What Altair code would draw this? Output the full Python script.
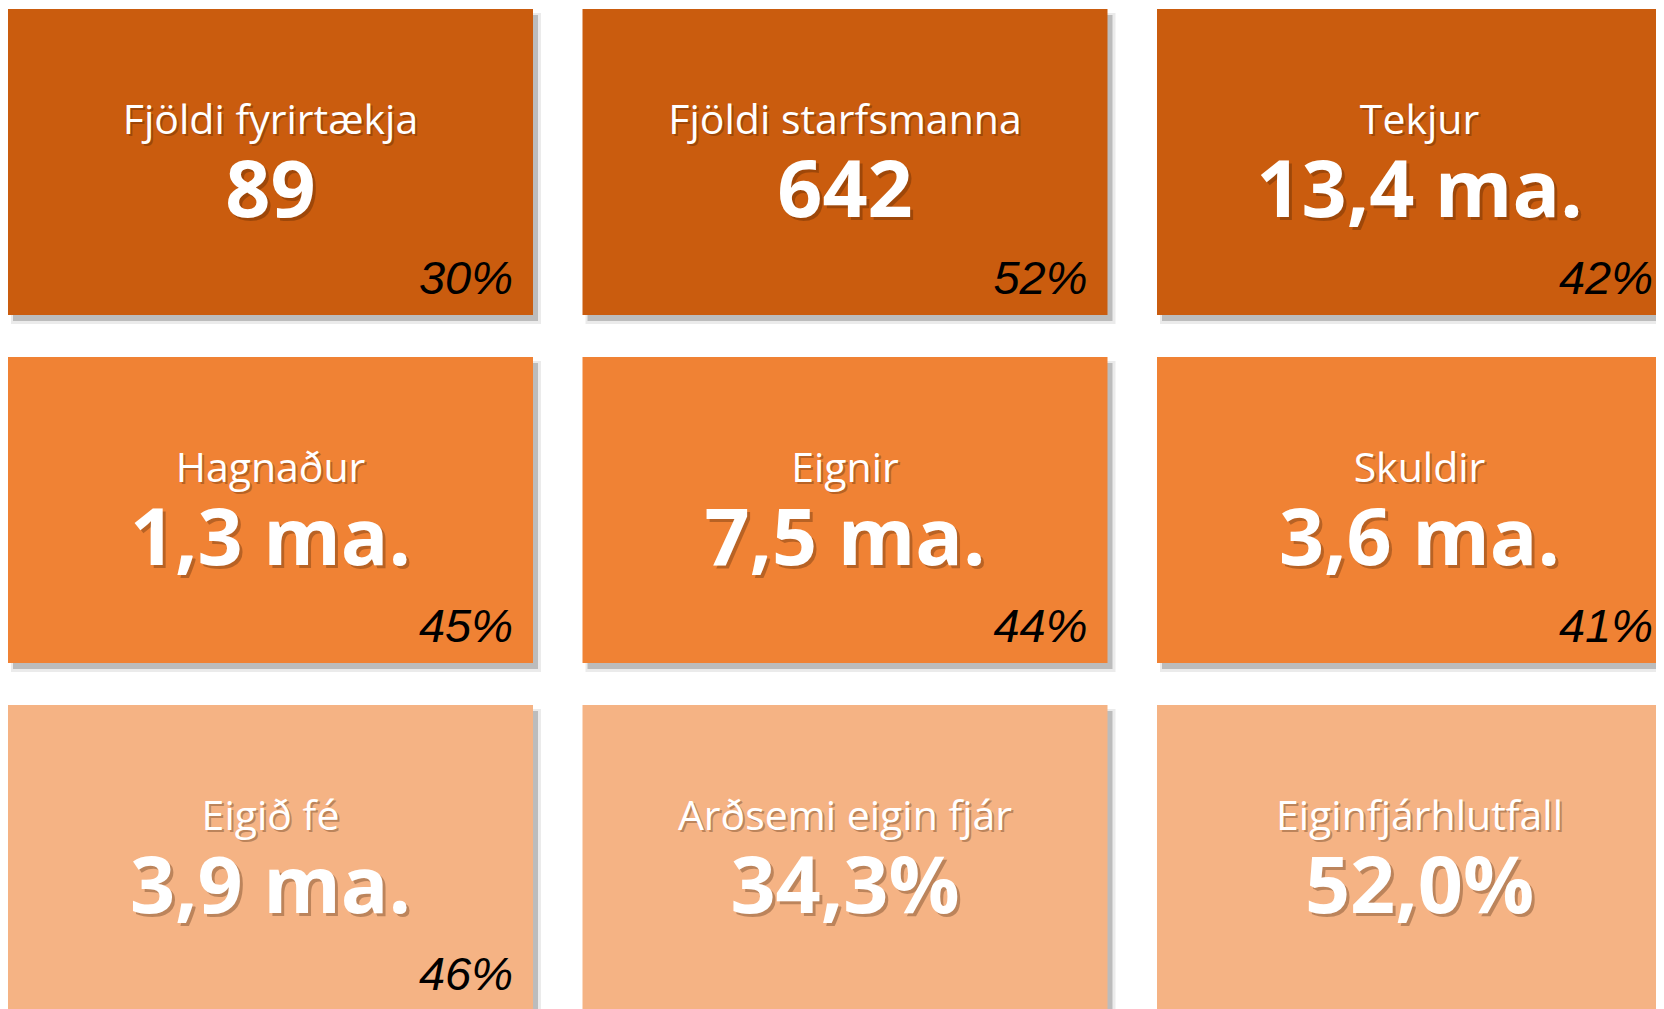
import altair as alt
import pandas as pd

titles = ["Fjöldi fyrirtækja", "Fjöldi starfsmanna", "Tekjur",
          "Hagnaður", "Eignir", "Skuldir",
          "Eigið fé", "Arðsemi eigin fjár", "Eiginfjárhlutfall"]
values = ["89", "642", "13,4 ma.",
          "1,3 ma.", "7,5 ma.", "3,6 ma.",
          "3,9 ma.", "34,3%", "52,0%"]
shares = ["30%", "52%", "42%",
          "45%", "44%", "41%",
          "46%", "", ""]
row_colors = ["#CA5C0E", "#F08234", "#F5B384"]

W, H = 1648, 1001
TILE_W, TILE_H = 525, 306
STEP_X, STEP_Y = 574.5, 348
TOP = 1

rows = []
for i, (t, v, s) in enumerate(zip(titles, values, shares)):
    c, r = i % 3, i // 3
    x0 = c * STEP_X
    y0 = TOP + r * STEP_Y
    rows.append(dict(
        title=t, value=v, share=s, color=row_colors[r],
        x0=x0, x1=x0 + TILE_W, y0=y0, y1=y0 + TILE_H,
        sx0=x0 + 5, sx1=x0 + TILE_W + 5, sy0=y0 + 6, sy1=y0 + TILE_H + 6,
        sx0b=x0 + 3, sx1b=x0 + TILE_W + 8, sy0b=y0 + 4, sy1b=y0 + TILE_H + 9,
        cx=x0 + TILE_W / 2, ty=y0 + 125, vy=y0 + 208,
        px=min(x0 + TILE_W - 20, W - 3), py=y0 + TILE_H - 21,
    ))
df = pd.DataFrame(rows)

xs = alt.Scale(domain=[0, W], range=[0, W], nice=False, zero=False)
ys = alt.Scale(domain=[0, H], range=[0, H], nice=False, zero=False)

base = alt.Chart(df)

shadow2 = base.mark_rect(color="#000000", opacity=0.08, clip=True).encode(
    x=alt.X("sx0b:Q", scale=xs, axis=None), x2="sx1b:Q",
    y=alt.Y("sy0b:Q", scale=ys, axis=None), y2="sy1b:Q")
shadow = base.mark_rect(color="#000000", opacity=0.2, clip=True).encode(
    x=alt.X("sx0:Q", scale=xs, axis=None), x2="sx1:Q",
    y=alt.Y("sy0:Q", scale=ys, axis=None), y2="sy1:Q")
tiles = base.mark_rect(clip=True).encode(
    x=alt.X("x0:Q", scale=xs, axis=None), x2="x1:Q",
    y=alt.Y("y0:Q", scale=ys, axis=None), y2="y1:Q",
    color=alt.Color("color:N", scale=None))

def txt(field, yfield, size, weight, dx=0, dy=0, color="#FFFFFF", opacity=1.0):
    return base.mark_text(font="Open Sans", fontSize=size, fontWeight=weight,
                          align="center", baseline="alphabetic",
                          color=color, opacity=opacity, dx=dx, dy=dy, clip=True).encode(
        x=alt.X("cx:Q", scale=xs, axis=None),
        y=alt.Y(f"{yfield}:Q", scale=ys, axis=None),
        text=f"{field}:N")

title_sh = txt("title", "ty", 41, "normal", dx=2, dy=2, color="#3a1a00", opacity=0.3)
title_t = txt("title", "ty", 41, "normal")
value_sh = txt("value", "vy", 79, "bold", dx=3, dy=3, color="#3a1a00", opacity=0.3)
value_t = txt("value", "vy", 79, "bold")

share_t = base.mark_text(font="Liberation Sans", fontSize=47, fontStyle="italic",
                         align="right", baseline="alphabetic", color="#000000",
                         clip=True).encode(
    x=alt.X("px:Q", scale=xs, axis=None),
    y=alt.Y("py:Q", scale=ys, axis=None),
    text="share:N")

chart = alt.layer(shadow2, shadow, tiles, title_sh, title_t, value_sh, value_t, share_t).properties(
    width=W, height=H, padding=0, background="#FFFFFF"
).configure_view(stroke=None)

chart.save("out.html", embed_options={"renderer": "svg", "actions": False})
